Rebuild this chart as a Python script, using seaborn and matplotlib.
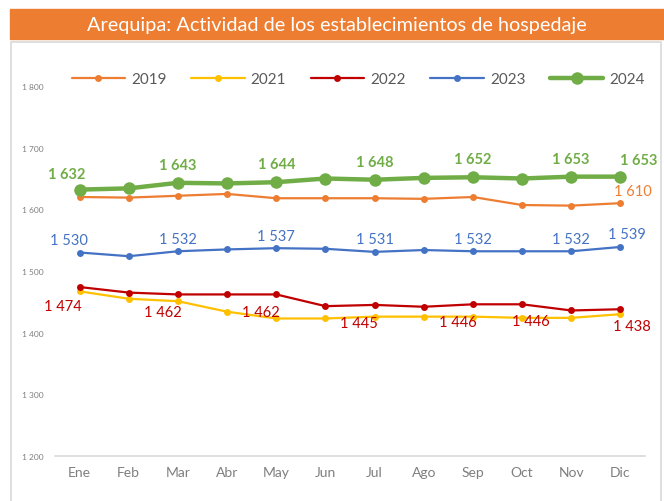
import matplotlib.pyplot as plt
import matplotlib.patches as mpatches
import pandas as pd
import seaborn as sns

months = ["Ene", "Feb", "Mar", "Abr", "May", "Jun", "Jul", "Ago", "Sep", "Oct", "Nov", "Dic"]
v2019 = [1620, 1619, 1622, 1625, 1618, 1618, 1618, 1617, 1620, 1607, 1606, 1610]
v2021 = [1467, 1455, 1451, 1434, 1423, 1423, 1426, 1426, 1426, 1424, 1424, 1430]
v2022 = [1474, 1465, 1462, 1462, 1462, 1443, 1445, 1442, 1446, 1446, 1436, 1438]
v2023 = [1530, 1524, 1532, 1535, 1537, 1536, 1531, 1534, 1532, 1532, 1532, 1539]
v2024 = [1632, 1634, 1643, 1642, 1644, 1650, 1648, 1651, 1652, 1650, 1653, 1653]
yticks = [1200, 1300, 1400, 1500, 1600, 1700, 1800]

series = {"2019": v2019, "2021": v2021, "2022": v2022, "2023": v2023, "2024": v2024}
colors = {"2019": "#ED7D31", "2021": "#FFC000", "2022": "#C00000",
          "2023": "#4472C4", "2024": "#70AD47"}

df = pd.DataFrame(
    [(m, i, year, val) for year, vals in series.items() for i, (m, val) in enumerate(zip(months, vals))],
    columns=["mes", "pos", "year", "valor"],
)

sns.set_style("white")
plt.rcParams["font.family"] = ["Lato", "DejaVu Sans"]

fig = plt.figure(figsize=(6.64, 5.02), dpi=100)

# title banner and frame
fig.patches.append(mpatches.Rectangle((10 / 664, 1 - 40 / 502), 654 / 664, 30 / 502,
                                      transform=fig.transFigure, color="#ED7D31", zorder=0))
fig.patches.append(mpatches.Rectangle((11 / 664, -0.01), 650 / 664, 1 - 43 / 502 + 0.01,
                                      transform=fig.transFigure, fill=False,
                                      edgecolor="#D9D9D9", linewidth=1.2, zorder=0))
fig.text(0.507, 1 - 25 / 502, "Arequipa: Actividad de los establecimientos de hospedaje",
         ha="center", va="center", color="white", fontsize=14.3)

ax = fig.add_axes([55 / 664, 1 - 457 / 502, 590 / 664, 370 / 502])

for year in series:
    sub = df[df["year"] == year]
    big = year == "2024"
    sns.lineplot(data=sub, x="pos", y="valor", ax=ax, color=colors[year],
                 linewidth=3.2 if big else 1.6, marker="o",
                 markersize=9 if big else 5, markeredgewidth=0,
                 label=year, zorder=5 if big else 3)

label_idx = {"2024": [0, 2, 4, 6, 8, 10, 11],
             "2023": [0, 2, 4, 6, 8, 10, 11],
             "2022": [0, 2, 4, 6, 8, 9, 11]}
# offsets in points (dx, dy) per series for the data labels
offsets = {
    "2024": {0: (-9, 11), 11: (13, 12)},
    "2023": {0: (-8, 9), 11: (5, 9)},
    "2022": {0: (-12, -14), 9: (6, -12), 11: (8, -12)},
}
for year, default in [("2024", (0, 13)), ("2023", (0, 9)), ("2022", (-11, -13))]:
    vals = series[year]
    for i in label_idx[year]:
        dx, dy = offsets[year].get(i, default)
        ax.annotate(f"{vals[i]:,}".replace(",", " "), (i, vals[i]), xytext=(dx, dy),
                    textcoords="offset points", ha="center", va="center",
                    color=colors[year], fontsize=10.5,
                    fontweight="bold" if year == "2024" else "normal")
ax.annotate(f"{v2019[11]:,}".replace(",", " "), (11, v2019[11]), xytext=(9, 9),
            textcoords="offset points", ha="center", va="center",
            color=colors["2019"], fontsize=10.5)

ax.set_xlim(-0.5, 11.5)
ax.set_ylim(1200, 1800)
ax.set_xticks(range(12))
ax.set_xticklabels(months, fontsize=10, color="#7F7F7F")
ax.set_yticks(yticks)
ax.set_yticklabels([f"{t:,}".replace(",", " ") for t in yticks], fontsize=6, color="#7F7F7F")
ax.tick_params(axis="y", length=0, pad=8)
ax.tick_params(axis="x", length=0, pad=7)
ax.set_xlabel("")
ax.set_ylabel("")
for side in ["top", "right", "left"]:
    ax.spines[side].set_visible(False)
ax.spines["bottom"].set_color("#D9D9D9")
ax.spines["bottom"].set_linewidth(1.2)
ax.patch.set_alpha(0)

ax.legend(loc="center", bbox_to_anchor=(0.514, 1 + 10 / 370 - 0.008), ncol=5, frameon=False,
          fontsize=11, handlelength=3.5, columnspacing=1.6, handletextpad=0.4,
          labelcolor="#595959")

fig.savefig("out.png", dpi=100)
